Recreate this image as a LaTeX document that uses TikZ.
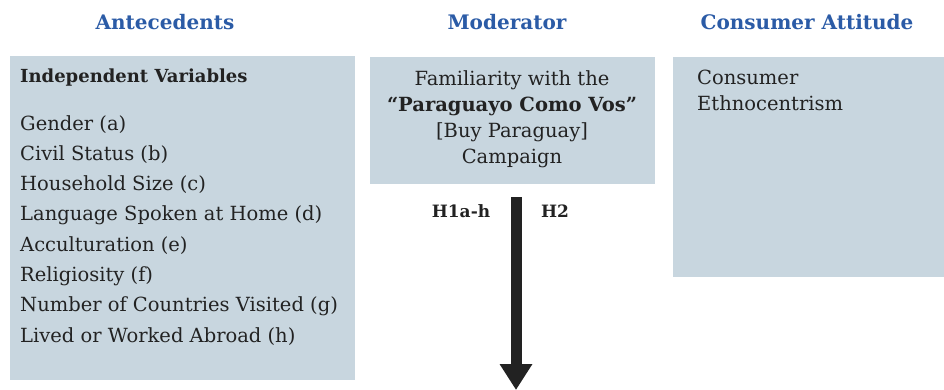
\documentclass[tikz,border=0pt]{standalone}
\usepackage{fontspec}
\setmainfont{DejaVu Serif}
\usetikzlibrary{arrows.meta}
\definecolor{boxfill}{HTML}{C8D6DF}
\definecolor{titleblue}{HTML}{2B5BA6}
\definecolor{ink}{HTML}{222222}
\tikzset{
  panel/.style={fill=boxfill, draw=none, anchor=north west, inner sep=0pt},
  ptitle/.style={font=\bfseries\fontsize{20}{24}\selectfont, text=titleblue, inner sep=0pt},
  body/.style={font=\fontsize{19.5}{26}\selectfont, text=ink, inner sep=0pt},
  hyp/.style={font=\bfseries\fontsize{17}{20}\selectfont, text=ink, inner sep=0pt},
  bigarrow/.style={draw=ink, line width=11pt, -{Triangle[width=31pt,length=26pt]}}
}
\begin{document}
\begin{tikzpicture}[x=1pt,y=-1pt]
\useasboundingbox (0,0) rectangle (944,390);
% titles
\node[ptitle] (t1) at (165,22) {Antecedents};
\node[ptitle] (t2) at (507,22) {Moderator};
\node[ptitle] (t3) at (807,22) {Consumer Attitude};
% panels
\node[panel, minimum width=345pt, minimum height=324pt] (ante) at (10,56) {};
\node[panel, minimum width=285pt, minimum height=127pt] (mod) at (370,57) {};
\node[panel, minimum width=271pt, minimum height=220pt] (att) at (673,57) {};
% left texts
\node[body, font=\bfseries\fontsize{18}{26}\selectfont, anchor=west] (iv) at (20,78) {Independent Variables};
\node[body, font=\fontsize{19.5}{30.3}\selectfont, anchor=north west, align=left] (list) at (20,115)
 {Gender (a)\\Civil Status (b)\\Household Size (c)\\Language Spoken at Home (d)\\Acculturation (e)\\Religiosity (f)\\Number of Countries Visited (g)\\Lived or Worked Abroad (h)};
% middle text
\node[body, align=center, anchor=north] (modtext) at (512,70)
 {Familiarity with the\\\textbf{“Paraguayo Como Vos”}\\{[}Buy Paraguay{]}\\Campaign};
% right text
\node[body, align=left, anchor=north west] (atttext) at (697,70) {Consumer\\Ethnocentrism};
% arrow
\coordinate (atop) at (516,197);
\coordinate (atip) at (516,390);
\draw[bigarrow] (atop) -- (atip);
\node[hyp] (h1) at (461,211) {H1a-h};
\node[hyp] (h2) at (555,211) {H2};
\end{tikzpicture}
\end{document}
